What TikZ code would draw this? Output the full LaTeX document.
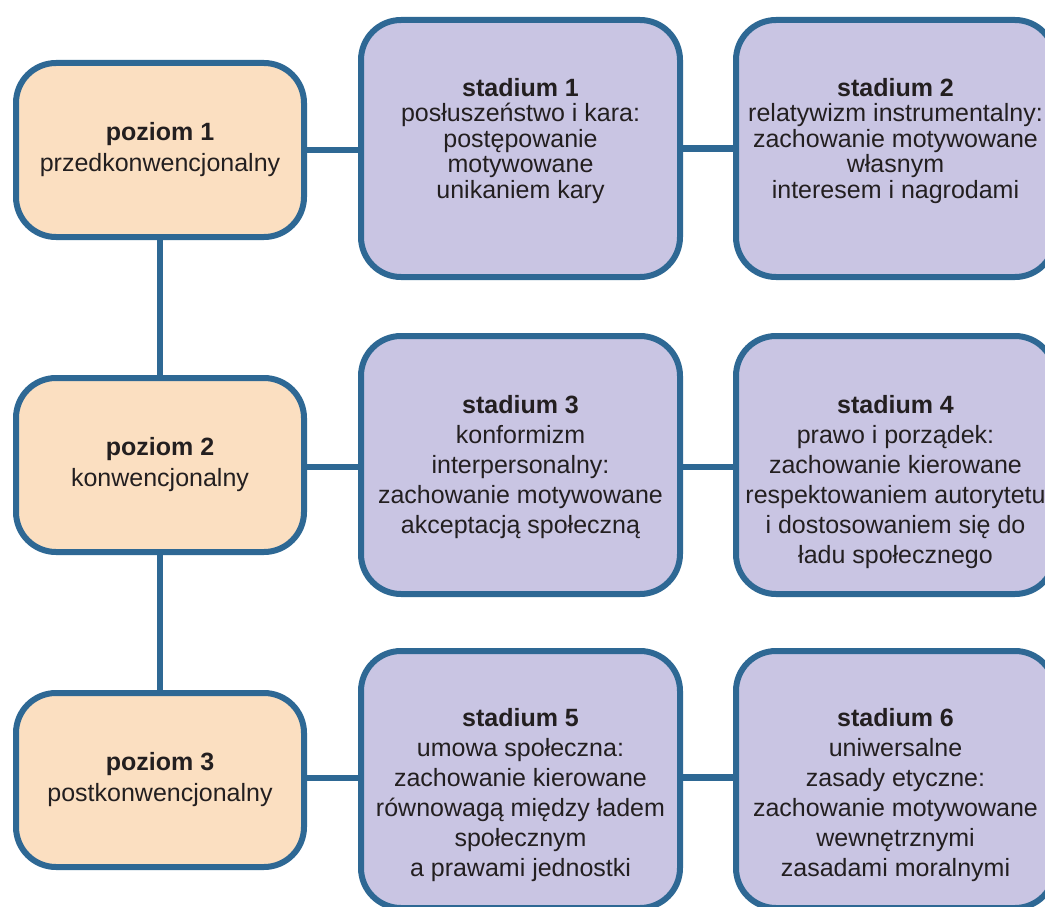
\documentclass[tikz,border=0pt]{standalone}
\usepackage{fontspec}
\setmainfont{Liberation Sans}
\definecolor{bord}{RGB}{46,104,148}
\definecolor{peach}{RGB}{251,223,193}
\definecolor{lav}{RGB}{201,197,227}
\definecolor{ink}{RGB}{35,31,32}
\begin{document}
\begin{tikzpicture}[x=1pt,y=-1pt,
 lvl/.style={draw=bord, fill=peach, line width=6pt, rounded corners=40pt, minimum width=288pt, minimum height=174pt, inner sep=0pt, outer sep=0pt, align=center, text=ink, font=\fontsize{25}{31}\selectfont},
 stg/.style={draw=bord, fill=lav, line width=6pt, rounded corners=40pt, minimum width=319pt, minimum height=257pt, inner sep=0pt, outer sep=0pt},
 stxt/.style={anchor=north, align=center, text=ink, inner sep=0pt, font=\fontsize{25}{30}\selectfont},
 stxtA/.style={stxt, font=\fontsize{25}{25.5}\selectfont},
 conn/.style={draw=bord, line width=6.5pt}]
\useasboundingbox (0,0) rectangle (1045,907);
\clip (0,0) rectangle (1045,907);
\fill[white] (0,0) rectangle (1045,907);

\node[lvl] (L1) at (160,150) {{\bfseries poziom 1}\\przedkonwencjonalny};
\node[lvl] (L2) at (160,465) {{\bfseries poziom 2}\\konwencjonalny};
\node[lvl] (L3) at (160,780) {{\bfseries poziom 3}\\postkonwencjonalny};

\node[stg] (S1) at (520.5,148.5) {};
\node[stg] (S2) at (895.5,148.5) {};
\node[stg, minimum height=258pt] (S3) at (520.5,465) {};
\node[stg, minimum height=258pt] (S4) at (895.5,465) {};
\node[stg] (S5) at (520.5,779.5) {};
\node[stg] (S6) at (895.5,779.5) {};

\node[stxtA] (S1t) at ([yshift=-58pt]S1.north) {{\bfseries stadium 1}\\posłuszeństwo i kara:\\postępowanie\\motywowane\\unikaniem kary};
\node[stxtA] (S2t) at ([yshift=-58pt]S2.north) {{\bfseries stadium 2}\\relatywizm instrumentalny:\\zachowanie motywowane\\własnym\\interesem i nagrodami};
\node[stxt] (S3t) at ([yshift=-59pt]S3.north) {{\bfseries stadium 3}\\konformizm\\interpersonalny:\\zachowanie motywowane\\akceptacją społeczną};
\node[stxt] (S4t) at ([yshift=-59pt]S4.north) {{\bfseries stadium 4}\\prawo i porządek:\\zachowanie kierowane\\respektowaniem autorytetu\\i dostosowaniem się do\\ładu społecznego};
\node[stxt] (S5t) at ([yshift=-57pt]S5.north) {{\bfseries stadium 5}\\umowa społeczna:\\zachowanie kierowane\\równowagą między ładem\\społecznym\\a prawami jednostki};
\node[stxt] (S6t) at ([yshift=-57pt]S6.north) {{\bfseries stadium 6}\\uniwersalne\\zasady etyczne:\\zachowanie motywowane\\wewnętrznymi\\zasadami moralnymi};

\draw[conn] (L1.east) -- (L1.east -| S1.west);
\draw[conn] (S1.east) -- (S2.west);
\draw[conn] ([yshift=-2pt]L2.east) -- ([yshift=-2pt]L2.east -| S3.west);
\draw[conn] ([yshift=-2pt]S3.east) -- ([yshift=-2pt]S4.west);
\draw[conn] ([yshift=2pt]L3.east) -- ([yshift=2pt]L3.east -| S5.west);
\draw[conn] ([yshift=2pt]S5.east) -- ([yshift=2pt]S6.west);
\draw[conn] (L1.south) -- (L2.north);
\draw[conn] (L2.south) -- (L3.north);
\end{tikzpicture}
\end{document}
